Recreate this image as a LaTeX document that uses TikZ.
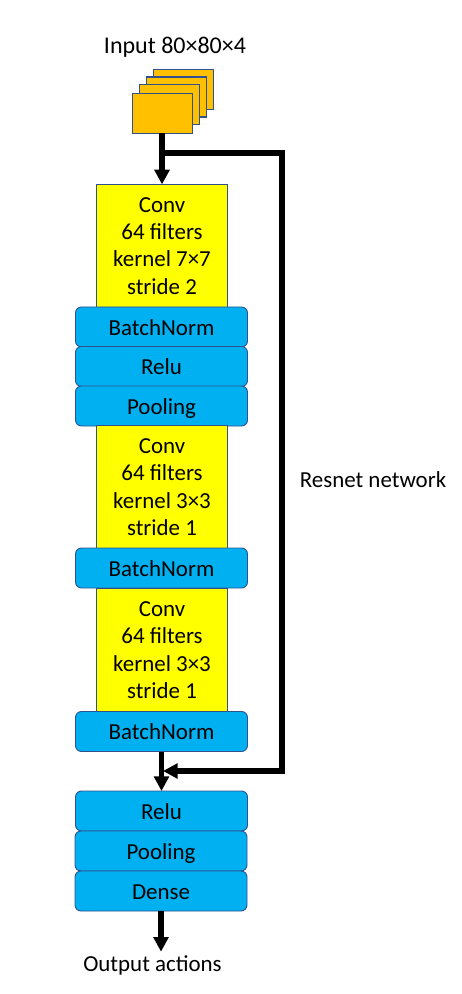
\documentclass[tikz,border=0pt]{standalone}
\usepackage{fontspec}
\setmainfont{Carlito}
\usetikzlibrary{arrows.meta}
\definecolor{layerblue}{HTML}{00B0F0}
\definecolor{inputorange}{HTML}{FFC000}
\definecolor{convyellow}{HTML}{FFFF00}
\definecolor{edgeblue}{HTML}{2F528F}

\begin{document}
\begin{tikzpicture}[
    x=0.75pt,y=-0.75pt,
    every node/.style={font=\fontsize{17.2}{20.5}\selectfont,inner sep=0pt,outer sep=0pt,text=black},
    conv/.style={rectangle,draw=edgeblue,fill=convyellow,line width=0.6pt,minimum width=98pt,minimum height=92pt,align=center},
    layer/.style={rectangle,rounded corners=4.5pt,draw=edgeblue,fill=layerblue,line width=0.7pt,minimum width=129pt,minimum height=30pt,text height=12.5pt,text depth=0.5pt},
    frame/.style={rectangle,draw=edgeblue,fill=inputorange,line width=0.8pt,minimum width=45pt,minimum height=30pt},
    flow/.style={line width=3.8pt,-{Triangle[length=11pt,width=11pt]}},
    ]
    \useasboundingbox (0,0) rectangle (461,994);

    \node[font=\fontsize{18}{20.5}\selectfont] (input) at (175,47.5) {Input 80×80×4};
    \node[frame] (frame1) at (183.3,89.3) {};
    \node[frame] (frame2) at (176.3,97) {};
    \node[frame] (frame3) at (169.3,104.2) {};
    \node[frame] (frame4) at (162.5,113.3) {};

    \node[conv] (conv1) at (162,245.75) {Conv\\64 filters\\kernel 7×7\\stride 2};
    \node[layer] (bn1) at (161.5,327) {BatchNorm};
    \node[layer] (relu1) at (161.5,366.5) {Relu};
    \node[layer] (pool1) at (161.5,406) {Pooling};
    \node[conv] (conv2) at (162,487) {Conv\\64 filters\\kernel 3×3\\stride 1};
    \node[layer] (bn2) at (161.5,568) {BatchNorm};
    \node[conv] (conv3) at (162,650) {Conv\\64 filters\\kernel 3×3\\stride 1};
    \node[layer] (bn3) at (161.5,731.5) {BatchNorm};
    \node[layer] (relu2) at (161.5,811) {Relu};
    \node[layer] (pool2) at (161,851) {Pooling};
    \node[layer] (dense) at (161,891) {Dense};
    \node (output) at (152.5,965) {Output actions};
    \node (resnet) at (373,480) {Resnet network};

    \coordinate (branch) at (162.5,153);
    \coordinate (merge) at (163,771);
    \coordinate (side) at (282,480);

    \draw[flow] (frame4.south -| conv1) -- (conv1.north);
    \draw[flow] (bn3.south) -- (relu2.north);
    \draw[flow] (dense.south) -- ++(0,40.7);
    \draw[flow] (branch) -| (side) |- (merge);
\end{tikzpicture}
\end{document}
